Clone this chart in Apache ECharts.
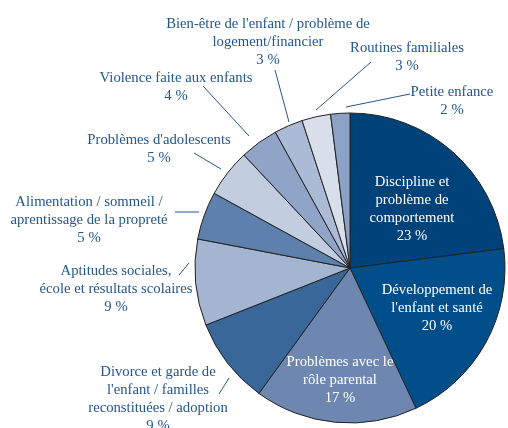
<!DOCTYPE html>
<html>
<head>
<meta charset="utf-8">
<script src="https://cdn.jsdelivr.net/npm/echarts@6/dist/echarts.min.js"></script>
<style>
  html, body { margin: 0; padding: 0; background: #fff; }
  #chart { width: 508px; height: 428px; }
</style>
</head>
<body>
<div id="chart"></div>
<script>
// catégories (ordre horaire depuis midi) et pourcentages
const categories = [
  'Discipline et\nproblème de\ncomportement',
  'Développement de\nl\'enfant et santé',
  'Problèmes avec le\nrôle parental',
  'Divorce et garde de\nl\'enfant / familles\nreconstituées / adoption',
  'Aptitudes sociales,\nécole et résultats scolaires',
  'Alimentation / sommeil /\naprentissage de la propreté',
  'Problèmes d\'adolescents',
  'Violence faite aux enfants',
  'Bien-être de l\'enfant / problème de\nlogement/financier',
  'Routines familiales',
  'Petite enfance'
];
const values = [23, 20, 17, 9, 9, 5, 5, 4, 3, 3, 2];
const colors = ['#00427a', '#004f8a', '#6d87b0', '#3a6799', '#a3b5d1', '#5e80ad',
                '#c2cde0', '#8fa4c7', '#abbbd6', '#d8dfeb', '#8ba1c5'];
const insideLabels = [0, 1, 2];

// position des étiquettes (centre du bloc) et traits de rappel
const labelPos = [
  [412, 209], [437, 308], [340, 380], [158, 399], [116, 289], [89, 220],
  [159, 149], [176, 87], [268, 42], [407, 57], [452, 101]
];
const leaders = {
  3: [[229, 378], [219, 394]],
  4: [[189, 263], [179, 275]],
  5: [[199, 212], [175, 212]],
  6: [[221, 169], [194, 153]],
  7: [[249, 136], [203, 86]],
  8: [[289, 122], [275, 70]],
  9: [[316, 110], [371, 62]],
  10: [[346, 107], [410, 94]]
};

const textColor = '#22568d';

const chart = echarts.init(document.getElementById('chart'));
chart.setOption({
  animation: false,
  series: [{
    type: 'pie',
    center: [350, 268],
    radius: 155,
    startAngle: 90,
    clockwise: true,
    avoidLabelOverlap: false,
    itemStyle: { borderColor: '#222', borderWidth: 1 },
    label: {
      show: true,
      position: 'outside',
      fontFamily: 'Liberation Serif',
      fontSize: 14.7,
      lineHeight: 18,
      color: textColor,
      align: 'center',
      formatter: p => p.name + '\n' + p.value + '\u00a0%'
    },
    labelLine: { show: true, lineStyle: { color: textColor, width: 1 } },
    emphasis: { disabled: true },
    labelLayout: params => {
      const i = params.dataIndex;
      const out = { x: labelPos[i][0], y: labelPos[i][1], align: 'center', verticalAlign: 'middle' };
      if (leaders[i]) {
        const l = leaders[i];
        out.labelLinePoints = [l[0], l[0], l[1]];
      }
      return out;
    },
    data: categories.map((name, i) => {
      const d = { name: name, value: values[i], itemStyle: { color: colors[i] } };
      if (insideLabels.includes(i)) {
        d.label = { position: 'inside', color: '#fff' };
        d.labelLine = { show: false };
      }
      return d;
    })
  }]
});
</script>
</body>
</html>
